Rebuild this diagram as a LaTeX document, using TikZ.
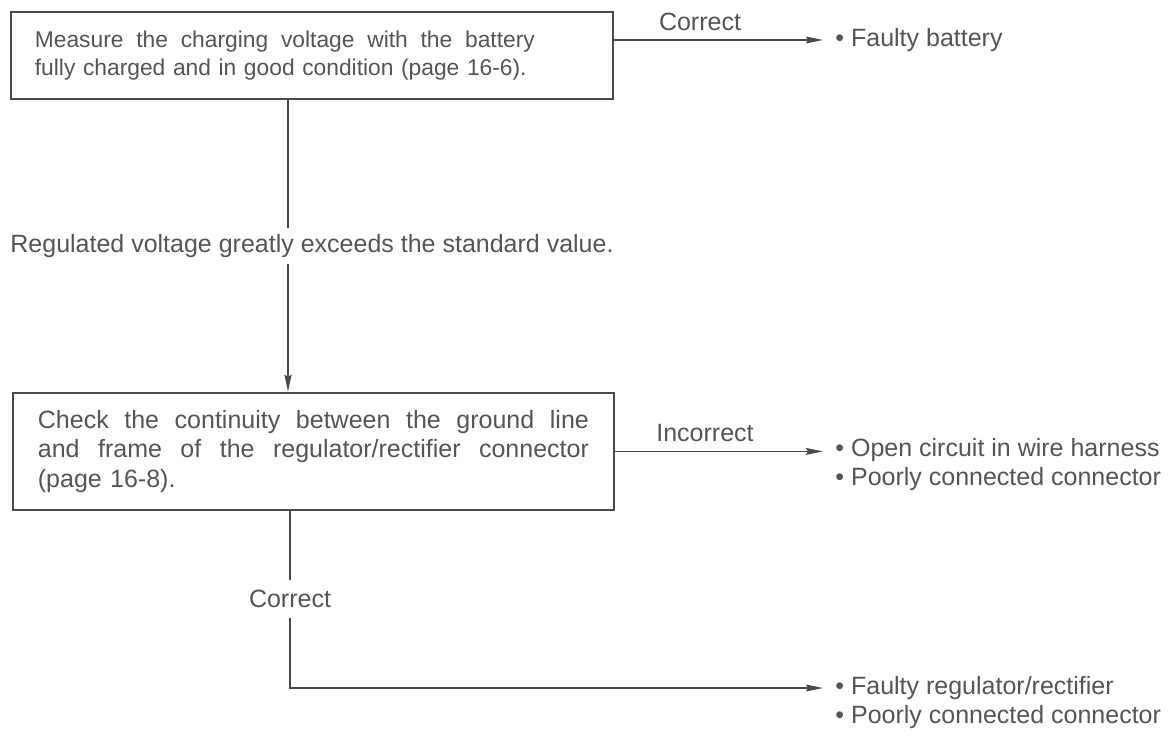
\documentclass[tikz,border=0pt]{standalone}
\usepackage{fontspec}
\setmainfont{Liberation Sans}
\usetikzlibrary{arrows.meta}
\definecolor{ink}{HTML}{4A4A4A}
\definecolor{txt}{HTML}{555555}
\newcommand{\justline}[2][275.5pt]{{\spaceskip=0pt\relax\xspaceskip=0pt\relax\makebox[#1][s]{#2}}}
\begin{document}
\begin{tikzpicture}[x=0.5pt,y=-0.5pt,
  font=\fontsize{12.5}{14.75}\selectfont,
  box/.style={draw=ink, line width=0.9pt, inner ysep=0pt, text=txt, align=left,
    anchor=north west},
  lbl/.style={text=txt, inner sep=1pt},
  outtxt/.style={text=txt, anchor=west, inner xsep=6pt, inner ysep=0pt},
  conn/.style={draw=ink, line width=0.8pt},
  arr/.style={conn, -{Stealth[length=8.5pt,width=3.4pt,inset=1pt]}}]
\useasboundingbox (0,0) rectangle (1176,754);
\fill[white] (0,0) rectangle (1176,754);

\coordinate (v1) at (288,0);
\coordinate (v2) at (290,0);
\coordinate (r1) at (0,40);

\node[box, font=\fontsize{11.4}{14}\selectfont, text width=277pt, inner xsep=12pt,
  minimum height=43.5pt] (b1) at (10,11)
  {\justline[250pt]{Measure the charging voltage with the battery}\\
   fully charged and in good condition (page 16-6).};

\node[box, text width=275.5pt, inner xsep=12.5pt, minimum height=58.5pt] (b2) at (12,392)
  {\justline{Check the continuity between the ground line}\\
   \justline{and frame of the regulator/rectifier connector}\\
   (page 16-8).};

\node[outtxt] (o1) at (823,40) {\textbullet\ Faulty battery};
\node[outtxt] (o2a) at (823,450) {\textbullet\ Open circuit in wire harness};
\node[outtxt] (o2b) at (823,479) {\textbullet\ Poorly connected connector};
\node[outtxt] (o3a) at (823,688) {\textbullet\ Faulty regulator/rectifier};
\node[outtxt] (o3b) at (823,717) {\textbullet\ Poorly connected connector};

\draw[arr] (b1.east |- r1) -- (o1.west);
\node[lbl] (c1) at (700,22) {Correct};

\draw[arr, line width=1.4pt] (b1.south -| v1) -- (b2.north -| v1);
\node[lbl, anchor=west, fill=white, inner xsep=0pt, inner ysep=3pt] (reg) at (10,246)
  {Regulated voltage greatly exceeds the standard value.};

\draw[arr] (b2.east) -- (b2.east -| o2a.west);
\node[lbl] (c2) at (705,433) {Incorrect};

\draw[arr] (b2.south -| v2) |- (o3a.west);
\node[lbl, fill=white, inner ysep=5pt] (c3) at (290,599) {Correct};
\end{tikzpicture}
\end{document}
